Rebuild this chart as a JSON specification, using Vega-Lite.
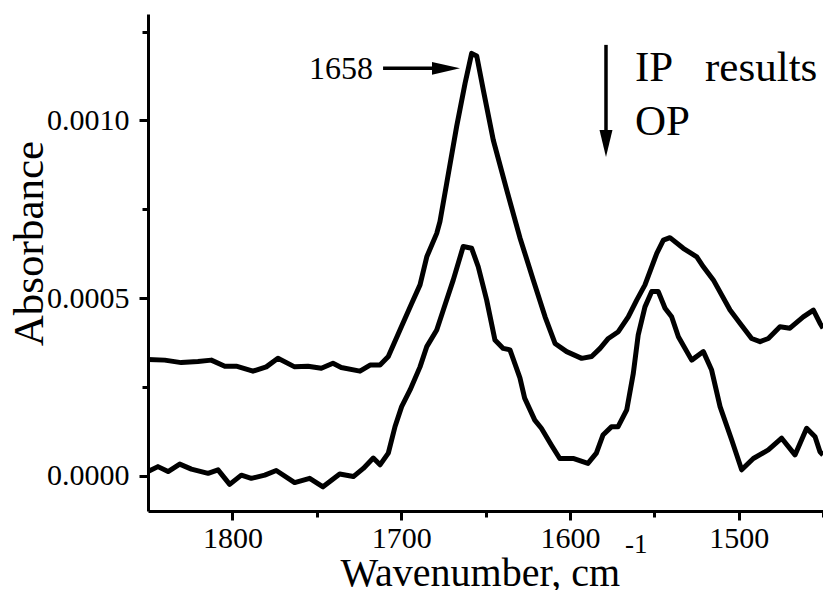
{
  "$schema": "https://vega.github.io/schema/vega-lite/v6.json",
  "width": 675,
  "height": 497,
  "autosize": {"type": "none"},
  "padding": {"left": 148, "top": 14, "right": 0, "bottom": 79},
  "config": {"view": {"stroke": null}},
  "datasets": {
    "spectra": [
      {"series": "IP", "wn": 1850, "abs": 0.000327},
      {"series": "IP", "wn": 1840.1, "abs": 0.000325},
      {"series": "IP", "wn": 1830.3, "abs": 0.000318},
      {"series": "IP", "wn": 1820.4, "abs": 0.000321},
      {"series": "IP", "wn": 1812.5, "abs": 0.000325},
      {"series": "IP", "wn": 1804.5, "abs": 0.000308},
      {"series": "IP", "wn": 1797.7, "abs": 0.000308},
      {"series": "IP", "wn": 1787.8, "abs": 0.000294},
      {"series": "IP", "wn": 1779.9, "abs": 0.000306},
      {"series": "IP", "wn": 1773.0, "abs": 0.000330},
      {"series": "IP", "wn": 1763.1, "abs": 0.000306},
      {"series": "IP", "wn": 1755.2, "abs": 0.000308},
      {"series": "IP", "wn": 1747.3, "abs": 0.000302},
      {"series": "IP", "wn": 1740.4, "abs": 0.000316},
      {"series": "IP", "wn": 1735.5, "abs": 0.000304},
      {"series": "IP", "wn": 1724.4, "abs": 0.000294},
      {"series": "IP", "wn": 1718.4, "abs": 0.000311},
      {"series": "IP", "wn": 1712.5, "abs": 0.000311},
      {"series": "IP", "wn": 1707.6, "abs": 0.000335},
      {"series": "IP", "wn": 1700.7, "abs": 0.000410},
      {"series": "IP", "wn": 1693.7, "abs": 0.000485},
      {"series": "IP", "wn": 1688.8, "abs": 0.000537},
      {"series": "IP", "wn": 1684.8, "abs": 0.000616},
      {"series": "IP", "wn": 1678.9, "abs": 0.000682},
      {"series": "IP", "wn": 1677.0, "abs": 0.000715},
      {"series": "IP", "wn": 1673.0, "abs": 0.000823},
      {"series": "IP", "wn": 1667.1, "abs": 0.000983},
      {"series": "IP", "wn": 1662.1, "abs": 0.001105},
      {"series": "IP", "wn": 1658.2, "abs": 0.001189},
      {"series": "IP", "wn": 1655.2, "abs": 0.001182},
      {"series": "IP", "wn": 1651.3, "abs": 0.001086},
      {"series": "IP", "wn": 1645.4, "abs": 0.000945},
      {"series": "IP", "wn": 1637.4, "abs": 0.000804},
      {"series": "IP", "wn": 1629.6, "abs": 0.000670},
      {"series": "IP", "wn": 1621.7, "abs": 0.000551},
      {"series": "IP", "wn": 1614.7, "abs": 0.000447},
      {"series": "IP", "wn": 1608.8, "abs": 0.000372},
      {"series": "IP", "wn": 1601.9, "abs": 0.000349},
      {"series": "IP", "wn": 1593.0, "abs": 0.000330},
      {"series": "IP", "wn": 1587.1, "abs": 0.000335},
      {"series": "IP", "wn": 1582.1, "abs": 0.000358},
      {"series": "IP", "wn": 1577.2, "abs": 0.000386},
      {"series": "IP", "wn": 1571.3, "abs": 0.000405},
      {"series": "IP", "wn": 1565.4, "abs": 0.000447},
      {"series": "IP", "wn": 1560.4, "abs": 0.000494},
      {"series": "IP", "wn": 1555.5, "abs": 0.000537},
      {"series": "IP", "wn": 1548.5, "abs": 0.000626},
      {"series": "IP", "wn": 1544.6, "abs": 0.000663},
      {"series": "IP", "wn": 1540.7, "abs": 0.000670},
      {"series": "IP", "wn": 1532.8, "abs": 0.000640},
      {"series": "IP", "wn": 1524.8, "abs": 0.000616},
      {"series": "IP", "wn": 1520.9, "abs": 0.000588},
      {"series": "IP", "wn": 1515.0, "abs": 0.000551},
      {"series": "IP", "wn": 1505.1, "abs": 0.000466},
      {"series": "IP", "wn": 1499.2, "abs": 0.000429},
      {"series": "IP", "wn": 1492.3, "abs": 0.000386},
      {"series": "IP", "wn": 1487.3, "abs": 0.000377},
      {"series": "IP", "wn": 1482.4, "abs": 0.000386},
      {"series": "IP", "wn": 1475.5, "abs": 0.000419},
      {"series": "IP", "wn": 1469.6, "abs": 0.000415},
      {"series": "IP", "wn": 1461.7, "abs": 0.000447},
      {"series": "IP", "wn": 1455.7, "abs": 0.000466},
      {"series": "IP", "wn": 1451.8, "abs": 0.000429},
      {"series": "IP", "wn": 1450, "abs": 0.000415},
      {"series": "OP", "wn": 1850, "abs": 0.000011},
      {"series": "OP", "wn": 1844.1, "abs": 0.000025},
      {"series": "OP", "wn": 1838.1, "abs": 0.000011},
      {"series": "OP", "wn": 1831.2, "abs": 0.000032},
      {"series": "OP", "wn": 1824.3, "abs": 0.000018},
      {"series": "OP", "wn": 1814.4, "abs": 0.000006},
      {"series": "OP", "wn": 1808.5, "abs": 0.000016},
      {"series": "OP", "wn": 1801.6, "abs": -0.000025},
      {"series": "OP", "wn": 1794.7, "abs": 0.000001},
      {"series": "OP", "wn": 1788.8, "abs": -0.000008},
      {"series": "OP", "wn": 1780.8, "abs": 0.000001},
      {"series": "OP", "wn": 1774.0, "abs": 0.000014},
      {"series": "OP", "wn": 1763.1, "abs": -0.000020},
      {"series": "OP", "wn": 1754.2, "abs": -0.000008},
      {"series": "OP", "wn": 1746.3, "abs": -0.000032},
      {"series": "OP", "wn": 1736.4, "abs": 0.000004},
      {"series": "OP", "wn": 1728.3, "abs": -0.000003},
      {"series": "OP", "wn": 1722.4, "abs": 0.000020},
      {"series": "OP", "wn": 1716.5, "abs": 0.000049},
      {"series": "OP", "wn": 1712.5, "abs": 0.000030},
      {"series": "OP", "wn": 1707.6, "abs": 0.000063},
      {"series": "OP", "wn": 1703.6, "abs": 0.000138},
      {"series": "OP", "wn": 1699.7, "abs": 0.000194},
      {"series": "OP", "wn": 1694.7, "abs": 0.000241},
      {"series": "OP", "wn": 1688.8, "abs": 0.000306},
      {"series": "OP", "wn": 1684.8, "abs": 0.000363},
      {"series": "OP", "wn": 1678.9, "abs": 0.000410},
      {"series": "OP", "wn": 1675.0, "abs": 0.000466},
      {"series": "OP", "wn": 1669.1, "abs": 0.000551},
      {"series": "OP", "wn": 1663.2, "abs": 0.000645},
      {"series": "OP", "wn": 1658.2, "abs": 0.000640},
      {"series": "OP", "wn": 1654.3, "abs": 0.000588},
      {"series": "OP", "wn": 1649.3, "abs": 0.000494},
      {"series": "OP", "wn": 1644.4, "abs": 0.000382},
      {"series": "OP", "wn": 1639.5, "abs": 0.000358},
      {"series": "OP", "wn": 1635.5, "abs": 0.000354},
      {"series": "OP", "wn": 1629.6, "abs": 0.000275},
      {"series": "OP", "wn": 1626.8, "abs": 0.000218},
      {"series": "OP", "wn": 1620.8, "abs": 0.000156},
      {"series": "OP", "wn": 1616.9, "abs": 0.000133},
      {"series": "OP", "wn": 1611.0, "abs": 0.000086},
      {"series": "OP", "wn": 1606.0, "abs": 0.000048},
      {"series": "OP", "wn": 1598.1, "abs": 0.000048},
      {"series": "OP", "wn": 1589.3, "abs": 0.000034},
      {"series": "OP", "wn": 1584.3, "abs": 0.000063},
      {"series": "OP", "wn": 1580.4, "abs": 0.000114},
      {"series": "OP", "wn": 1575.4, "abs": 0.000137},
      {"series": "OP", "wn": 1571.5, "abs": 0.000137},
      {"series": "OP", "wn": 1566.3, "abs": 0.000185},
      {"series": "OP", "wn": 1562.4, "abs": 0.000288},
      {"series": "OP", "wn": 1559.5, "abs": 0.000396},
      {"series": "OP", "wn": 1555.5, "abs": 0.000475},
      {"series": "OP", "wn": 1551.5, "abs": 0.000518},
      {"series": "OP", "wn": 1547.6, "abs": 0.000518},
      {"series": "OP", "wn": 1543.6, "abs": 0.000471},
      {"series": "OP", "wn": 1539.7, "abs": 0.000447},
      {"series": "OP", "wn": 1535.7, "abs": 0.000391},
      {"series": "OP", "wn": 1527.8, "abs": 0.000325},
      {"series": "OP", "wn": 1520.9, "abs": 0.000349},
      {"series": "OP", "wn": 1516.0, "abs": 0.000297},
      {"series": "OP", "wn": 1511.0, "abs": 0.000194},
      {"series": "OP", "wn": 1504.1, "abs": 0.000100},
      {"series": "OP", "wn": 1498.2, "abs": 0.000016},
      {"series": "OP", "wn": 1491.3, "abs": 0.000048},
      {"series": "OP", "wn": 1482.4, "abs": 0.000072},
      {"series": "OP", "wn": 1474.5, "abs": 0.000105},
      {"series": "OP", "wn": 1466.6, "abs": 0.000058},
      {"series": "OP", "wn": 1459.7, "abs": 0.000133},
      {"series": "OP", "wn": 1454.7, "abs": 0.000109},
      {"series": "OP", "wn": 1451.8, "abs": 0.000067},
      {"series": "OP", "wn": 1450, "abs": 0.000058}
    ],
    "arrowLines": [
      {"wn": 1710.7, "wn2": 1681.7, "abs": 0.001147, "abs2": 0.001147},
      {"wn": 1578.6, "wn2": 1578.6, "abs": 0.001213, "abs2": 0.000973}
    ],
    "headRight": [{"wn": 1673.4, "abs": 0.001147}],
    "headDown": [{"wn": 1578.6, "abs": 0.000935}],
    "peakLabel": [{"wn": 1716.7, "abs": 0.001117, "label": "1658"}],
    "legendText": [
      {"wn": 1561.4, "abs": 0.001111, "label": "IP"},
      {"wn": 1519.9, "abs": 0.001111, "label": "results"},
      {"wn": 1561.4, "abs": 0.000959, "label": "OP"}
    ],
    "unitSup": [{"wn": 1567.3, "abs": -0.000218, "label": "-1"}]
  },
  "resolve": {"axis": {"x": "independent", "y": "independent"}},
  "layer": [
    {
      "data": {"name": "spectra"},
      "mark": {"type": "line", "color": "black", "strokeWidth": 5, "strokeJoin": "round"},
      "encoding": {
        "x": {
          "field": "wn", "type": "quantitative",
          "scale": {"domain": [1450, 1850], "reverse": true, "nice": false, "zero": false},
          "axis": {
            "orient": "bottom", "values": [1500, 1600, 1700, 1800], "format": "d",
            "grid": false, "domainColor": "black", "domainWidth": 3, "tickColor": "black", "tickWidth": 3, "tickSize": 9,
            "labelFont": "Liberation Serif", "labelFontSize": 30, "labelColor": "black", "labelPadding": 3, "labelFlush": false,
            "title": "Wavenumber, cm", "titleFont": "Liberation Serif", "titleFontSize": 40, "titleFontWeight": "normal", "titleColor": "black",
            "titleAlign": "left", "titleAnchor": "start", "titleX": 192, "titleY": 74, "titleBaseline": "alphabetic"
          }
        },
        "y": {
          "field": "abs", "type": "quantitative",
          "scale": {"domain": [-0.0001, 0.0013], "nice": false, "zero": false},
          "axis": {
            "orient": "left", "values": [0, 0.0005, 0.001], "format": ".4f",
            "grid": false, "domainColor": "black", "domainWidth": 3, "tickColor": "black", "tickWidth": 3, "tickSize": 9,
            "labelFont": "Liberation Serif", "labelFontSize": 30, "labelColor": "black", "labelPadding": 10,
            "title": "Absorbance", "titleFont": "Liberation Serif", "titleFontSize": 43, "titleFontWeight": "normal", "titleColor": "black",
            "titleAngle": -90, "titleAlign": "center", "titleBaseline": "alphabetic", "titleX": -106, "titleY": 229
          }
        },
        "detail": {"field": "series", "type": "nominal"}
      }
    },
    {
      "data": {"name": "arrowLines"},
      "mark": {"type": "rule", "color": "black", "strokeWidth": 3.5},
      "encoding": {
        "x": {
          "field": "wn", "type": "quantitative",
          "scale": {"domain": [1450, 1850], "reverse": true, "nice": false, "zero": false},
          "axis": {
            "orient": "bottom", "values": [1450, 1550, 1650, 1750], "grid": false, "domain": false, "labels": false, "title": null,
            "tickColor": "black", "tickWidth": 3, "tickSize": 6
          }
        },
        "x2": {"field": "wn2"},
        "y": {
          "field": "abs", "type": "quantitative",
          "scale": {"domain": [-0.0001, 0.0013], "nice": false, "zero": false},
          "axis": {
            "orient": "left", "values": [0.00025, 0.00075, 0.00125], "grid": false, "domain": false, "labels": false, "title": null,
            "tickColor": "black", "tickWidth": 3, "tickSize": 6
          }
        },
        "y2": {"field": "abs2"}
      }
    },
    {
      "data": {"name": "headRight"},
      "mark": {"type": "point", "shape": "M-1,-0.46L1,0L-1,0.46Z", "size": 784, "filled": true, "color": "black", "opacity": 1, "strokeWidth": 0},
      "encoding": {
        "x": {"field": "wn", "type": "quantitative", "scale": {"domain": [1450, 1850], "reverse": true, "nice": false, "zero": false}, "axis": null},
        "y": {"field": "abs", "type": "quantitative", "scale": {"domain": [-0.0001, 0.0013], "nice": false, "zero": false}, "axis": null}
      }
    },
    {
      "data": {"name": "headDown"},
      "mark": {"type": "point", "shape": "M-0.48,-1L0,1L0.48,-1Z", "size": 729, "filled": true, "color": "black", "opacity": 1, "strokeWidth": 0},
      "encoding": {
        "x": {"field": "wn", "type": "quantitative", "scale": {"domain": [1450, 1850], "reverse": true, "nice": false, "zero": false}, "axis": null},
        "y": {"field": "abs", "type": "quantitative", "scale": {"domain": [-0.0001, 0.0013], "nice": false, "zero": false}, "axis": null}
      }
    },
    {
      "data": {"name": "peakLabel"},
      "mark": {"type": "text", "font": "Liberation Serif", "fontSize": 32, "align": "right", "baseline": "alphabetic", "color": "black"},
      "encoding": {
        "x": {"field": "wn", "type": "quantitative", "scale": {"domain": [1450, 1850], "reverse": true, "nice": false, "zero": false}, "axis": null},
        "y": {"field": "abs", "type": "quantitative", "scale": {"domain": [-0.0001, 0.0013], "nice": false, "zero": false}, "axis": null},
        "text": {"field": "label"}
      }
    },
    {
      "data": {"name": "legendText"},
      "mark": {"type": "text", "font": "Liberation Serif", "fontSize": 43, "align": "left", "baseline": "alphabetic", "color": "black"},
      "encoding": {
        "x": {"field": "wn", "type": "quantitative", "scale": {"domain": [1450, 1850], "reverse": true, "nice": false, "zero": false}, "axis": null},
        "y": {"field": "abs", "type": "quantitative", "scale": {"domain": [-0.0001, 0.0013], "nice": false, "zero": false}, "axis": null},
        "text": {"field": "label"}
      }
    },
    {
      "data": {"name": "unitSup"},
      "mark": {"type": "text", "font": "Liberation Serif", "fontSize": 27, "align": "left", "baseline": "alphabetic", "color": "black"},
      "encoding": {
        "x": {"field": "wn", "type": "quantitative", "scale": {"domain": [1450, 1850], "reverse": true, "nice": false, "zero": false}, "axis": null},
        "y": {"field": "abs", "type": "quantitative", "scale": {"domain": [-0.0001, 0.0013], "nice": false, "zero": false}, "axis": null},
        "text": {"field": "label"}
      }
    }
  ]
}
